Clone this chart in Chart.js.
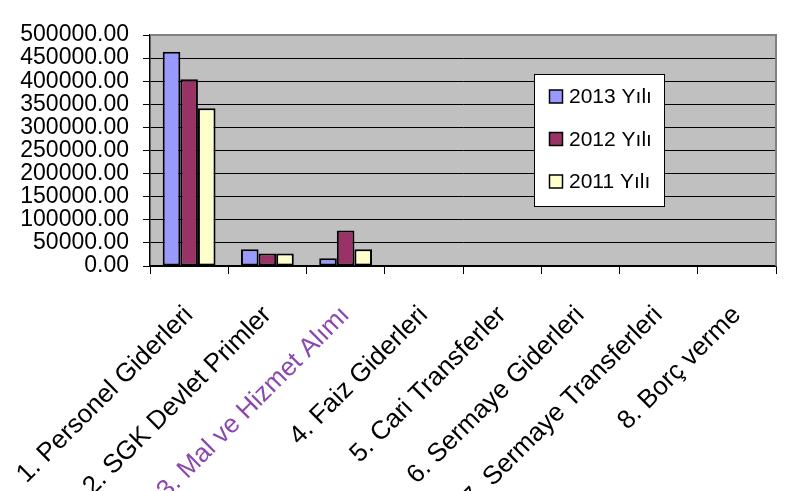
<!DOCTYPE html>
<html lang="tr">
<head>
  <meta charset="UTF-8" />
  <title>Giderler</title>
  <script src="https://cdn.jsdelivr.net/npm/chart.js"></script>
  <style>
    body { margin: 0; background: #fff; }
    #wrap { width: 802px; height: 491px; }
  </style>
</head>
<body>
  <div id="wrap"><canvas id="giderChart" width="802" height="491"></canvas></div>
  <script>
    const categories = [
      '1. Personel Giderleri',
      '2. SGK Devlet Primler',
      '3. Mal ve Hizmet Alımı',
      '4. Faiz Giderleri',
      '5. Cari Transferler',
      '6. Sermaye Giderleri',
      '7. Sermaye Transferleri',
      '8. Borç verme'
    ];
    const seriesNames = ['2013 Yılı', '2012 Yılı', '2011 Yılı'];
    const values2013 = [464000, 36000, 16600, 0, 0, 0, 0, 0];
    const values2012 = [404000, 27300, 76800, 0, 0, 0, 0, 0];
    const values2011 = [341600, 27300, 36000, 0, 0, 0, 0, 0];
    const yMax = 500000;
    const yStep = 50000;

    const colors = ['#9999FF', '#993366', '#FFFFCC'];

    // gray plot area, plot frame and the boxed legend
    const plotArea = {
      id: 'plotArea',
      beforeDraw(chart) {
        const a = chart.chartArea, c = chart.ctx;
        c.save();
        c.fillStyle = '#C0C0C0';
        c.fillRect(a.left, a.top, a.right - a.left, a.bottom - a.top);
        c.restore();
      },
      afterDraw(chart) {
        const a = chart.chartArea, c = chart.ctx;
        c.save();
        c.strokeStyle = '#808080';
        c.lineWidth = 2;
        c.beginPath();
        c.moveTo(a.left, a.top);
        c.lineTo(a.right, a.top);
        c.lineTo(a.right, a.bottom);
        c.stroke();

        // legend
        c.fillStyle = '#fff';
        c.fillRect(534.5, 74.5, 130, 132);
        c.strokeStyle = '#000';
        c.lineWidth = 1;
        c.strokeRect(534.5, 74.5, 130, 132);
        c.font = '21px "Liberation Sans", Arial, sans-serif';
        c.textBaseline = 'middle';
        c.textAlign = 'left';
        chart.data.datasets.forEach((ds, i) => {
          const y = 96.5 + i * 42.5;
          c.fillStyle = ds.backgroundColor;
          c.fillRect(549.5, y - 6.5, 13, 13);
          c.strokeStyle = '#000';
          c.lineWidth = 1.5;
          c.strokeRect(549.5, y - 6.5, 13, 13);
          c.fillStyle = '#000';
          c.fillText(ds.label, 569, y + 1);
        });
        c.restore();
      }
    };

    new Chart(document.getElementById('giderChart'), {
      type: 'bar',
      data: {
        labels: categories,
        datasets: [
          { label: seriesNames[0], data: values2013, backgroundColor: colors[0] },
          { label: seriesNames[1], data: values2012, backgroundColor: colors[1] },
          { label: seriesNames[2], data: values2011, backgroundColor: colors[2] }
        ]
      },
      options: {
        responsive: false,
        animation: false,
        layout: { padding: { top: 35, right: 26, left: 0, bottom: 0 } },
        datasets: {
          bar: {
            borderColor: '#000',
            borderWidth: 2,
            borderSkipped: false,
            categoryPercentage: 0.675,
            barPercentage: 1
          }
        },
        plugins: {
          legend: { display: false },
          tooltip: { enabled: false }
        },
        scales: {
          x: {
            grid: {
              offset: true,
              drawOnChartArea: false,
              drawTicks: true,
              tickLength: 8,
              tickColor: '#000'
            },
            border: { color: '#000', width: 1.5 },
            ticks: {
              autoSkip: false,
              minRotation: 45,
              maxRotation: 45,
              padding: 26,
              color: ctx => ctx.index === 2 ? '#8a48b0' : '#000',
              font: { family: '"Liberation Sans", Arial, sans-serif', size: 26 }
            },
            afterFit(scale) {
              scale.height = 491 - 266;
              scale.paddingLeft = 0;
              scale.paddingRight = 0;
            }
          },
          y: {
            min: 0,
            max: yMax,
            grid: {
              color: '#000',
              lineWidth: 1,
              drawTicks: true,
              tickLength: 7,
              tickColor: '#000'
            },
            border: { color: '#000', width: 1.5 },
            ticks: {
              autoSkip: false,
              stepSize: yStep,
              padding: 14,
              color: '#000',
              font: { family: '"Liberation Sans", Arial, sans-serif', size: 23 },
              callback: v => v.toFixed(2)
            },
            afterFit(scale) { scale.width = 150; }
          }
        }
      },
      plugins: [plotArea]
    });
  </script>
</body>
</html>
